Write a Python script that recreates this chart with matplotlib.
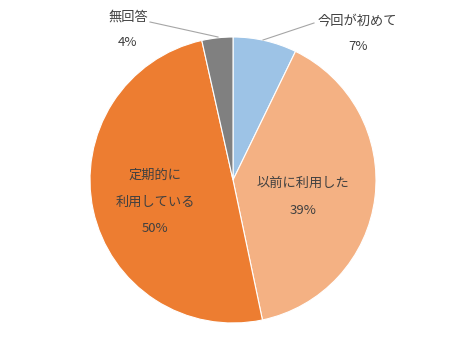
import matplotlib
matplotlib.use("Agg")
import matplotlib.pyplot as plt

plt.rcParams['font.family'] = ['Noto Sans CJK JP', 'DejaVu Sans']

categories = ["今回が初めて", "以前に利用した", "定期的に\n利用している", "無回答"]
values = [7.2, 39.5, 49.8, 3.5]
pct_labels = ["7%", "39%", "50%", "4%"]
colors = ["#9DC3E6", "#F4B183", "#ED7D31", "#808080"]

W, H = 466, 359
fig = plt.figure(figsize=(W / 100, H / 100), dpi=100)
ax = fig.add_axes([0, 0, 1, 1])

cx, cy, r = 233, H - 180, 143
ax.pie(values, colors=colors, startangle=90, counterclock=False,
       center=(cx, cy), radius=r, frame=True,
       wedgeprops=dict(edgecolor='white', linewidth=0.8))
ax.set_xlim(0, W)
ax.set_ylim(0, H)
ax.set_aspect('equal')
ax.axis('off')

tc = "#404040"
fs = 9.5

def txt(x, y, s):
    ax.text(x, H - y, s, ha='center', va='center', fontsize=fs, color=tc)

# 今回が初めて (outside)
txt(357, 21, categories[0])
txt(358, 47, pct_labels[0])
ax.plot([314, 263], [H - 23, H - 40], color="#A6A6A6", lw=0.8)

# 以前に利用した
txt(303, 183, categories[1])
txt(303, 210, pct_labels[1])

# 定期的に利用している
l1, l2 = categories[2].split("\n")
txt(155, 175, l1)
txt(155, 202, l2)
txt(155, 228, pct_labels[2])

# 無回答 (outside)
txt(128, 17, categories[3])
txt(128, 43, pct_labels[3])
ax.plot([150, 218], [H - 22, H - 37], color="#A6A6A6", lw=0.8)

fig.savefig("out.png", dpi=100, facecolor='white')
